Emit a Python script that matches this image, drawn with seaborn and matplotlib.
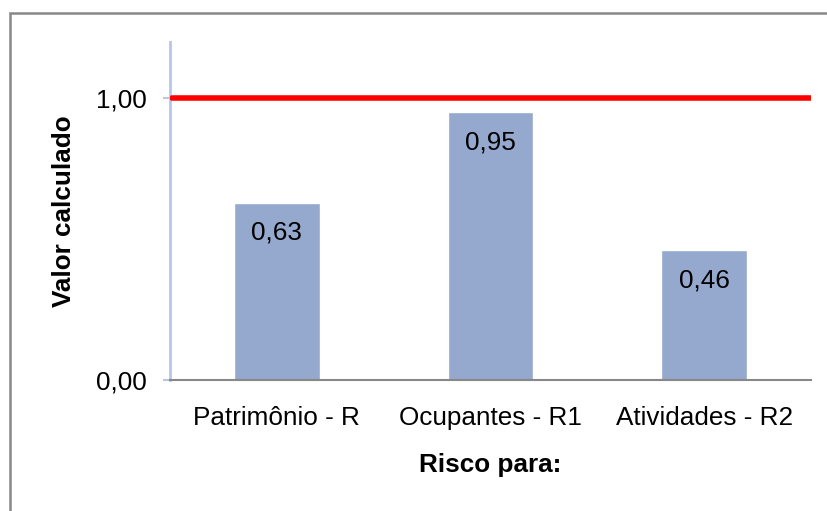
import matplotlib
matplotlib.use("Agg")
import matplotlib.pyplot as plt
import seaborn as sns
import pandas as pd
from matplotlib.patches import Rectangle

categories = ["Patrimônio - R", "Ocupantes - R1", "Atividades - R2"]
values = [0.63, 0.95, 0.46]
labels = ["0,63", "0,95", "0,46"]
limit_value = 1.0
ytick_values = [0.0, 1.0]
ytick_labels = ["0,00", "1,00"]

sns.set_theme(style="white")
plt.rcParams['font.family'] = ['Liberation Sans', 'DejaVu Sans']
plt.rcParams['text.color'] = 'black'
plt.rcParams['axes.labelcolor'] = 'black'
plt.rcParams['xtick.color'] = 'black'
plt.rcParams['ytick.color'] = 'black'

FS = 18.8

df = pd.DataFrame({"cat": categories, "val": values})

fig = plt.figure(figsize=(8.28, 5.11), dpi=100)
ax = fig.add_axes([170/828, 1-380/511, 641/828, 338/511])

sns.barplot(data=df, x="cat", y="val", color="#95A9CF", width=0.4, ax=ax, saturation=1)
ax.set_ylim(0, 1.2)
ax.set_xlim(-0.5, 2.5)
ax.axhline(limit_value, color="#FF0000", lw=4, xmin=0.003, xmax=1.0, zorder=5)

for i, (v, t) in enumerate(zip(values, labels)):
    ax.text(i, v - 0.131, t, ha="center", va="baseline", fontsize=FS, color="black")

ax.set_yticks(ytick_values)
ax.set_yticklabels(ytick_labels, fontsize=FS)
ax.tick_params(axis="y", length=5, width=1.5, color="#B4C7E7", left=True, pad=12,
               labelcolor="black")
ax.tick_params(axis="x", length=0, labelsize=FS, pad=19, labelcolor="black")

for s in ["top", "right"]:
    ax.spines[s].set_visible(False)
ax.spines["left"].set_color("#B4C7E7")
ax.spines["left"].set_linewidth(2)
ax.spines["bottom"].set_color("#888888")
ax.spines["bottom"].set_linewidth(1.5)

ax.set_xlabel("Risco para:", fontsize=FS, fontweight="bold", labelpad=16, color="black")
ax.set_ylabel("Valor calculado", fontsize=FS, fontweight="bold", labelpad=14, color="black")

fig.patches.append(Rectangle((10/828, -0.1), 1.2, 1-13/511+0.1, transform=fig.transFigure,
                             fill=False, edgecolor="#888888", lw=1.8, clip_on=False))

fig.savefig("out.png", dpi=100)
